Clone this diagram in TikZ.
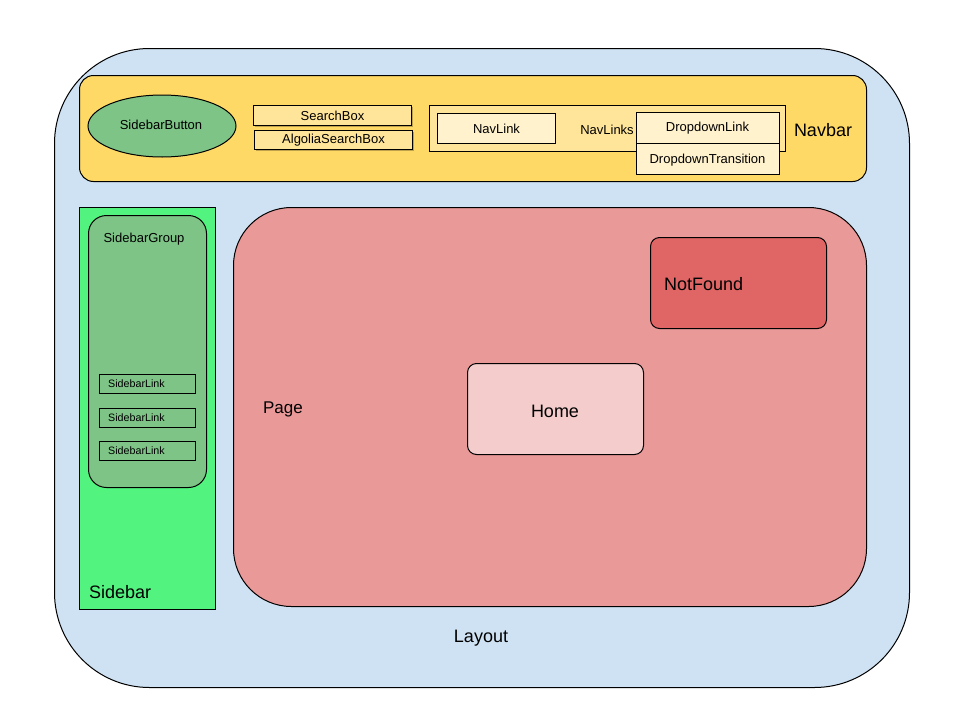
\documentclass[tikz,border=0pt]{standalone}
\usepackage{fontspec}
\setmainfont{Liberation Sans}
\usetikzlibrary{shapes.geometric,shadows}
\definecolor{layoutc}{HTML}{CFE2F3}
\definecolor{navc}{HTML}{FFD966}
\definecolor{searchc}{HTML}{FFE599}
\definecolor{linkc}{HTML}{FFF2CC}
\definecolor{sidec}{HTML}{52F47F}
\definecolor{greenc}{HTML}{7DC486}
\definecolor{pagec}{HTML}{EA9999}
\definecolor{nfc}{HTML}{E06666}
\definecolor{homec}{HTML}{F4CCCC}
\tikzset{
  box/.style={draw=black, line width=1pt, inner sep=0pt, anchor=north west},
  shd/.style={drop shadow={shadow xshift=1.5pt, shadow yshift=-1.5pt, opacity=0.25, fill=black}},
  txt/.style={inner sep=0pt, font=\fontsize{13}{15}\selectfont},
  big/.style={inner sep=0pt, font=\fontsize{18}{21}\selectfont},
  small/.style={inner sep=0pt, font=\fontsize{10.7}{12}\selectfont},
}
\begin{document}
\begin{tikzpicture}[x=1pt,y=-1pt]
\useasboundingbox[fill=white] (0,0) rectangle (960,720);
% Layout
\node[box, fill=layoutc, rounded corners=95pt, minimum width=855pt, minimum height=639pt] (layout) at (54,48) {};
\node[big] (layoutlbl) at (481,638) {Layout};
% Navbar
\node[box, fill=navc, rounded corners=14pt, minimum width=787pt, minimum height=106pt] (navbar) at (79,75) {};
\node[big] (navbarlbl) at (823,130) {Navbar};
\node[ellipse, draw=black, line width=1pt, fill=greenc, minimum width=148pt, minimum height=62pt, inner sep=0pt] (sbbtn) at (162,126) {};
\node[txt] (sbbtnlbl) at (161,124.5) {SidebarButton};
\node[box, fill=searchc, shd, minimum width=158pt, minimum height=20pt, font=\fontsize{13}{15}\selectfont] (search) at (253,105) {SearchBox};
\node[box, fill=searchc, shd, minimum width=158pt, minimum height=19pt, font=\fontsize{13}{15}\selectfont] (algolia) at (254,130) {AlgoliaSearchBox};
\node[box, fill=searchc, minimum width=356pt, minimum height=46pt] (navlinks) at (429,105) {};
\node[txt] (navlinkslbl) at (607,130) {NavLinks};
\node[box, fill=linkc, minimum width=118pt, minimum height=30pt, font=\fontsize{13}{15}\selectfont] (navlink) at (437,113) {NavLink};
\node[box, fill=linkc, minimum width=143pt, minimum height=31pt] (ddtrans) at (636,143) {};
\node[txt] (ddtranslbl) at (707.5,160) {DropdownTransition};
\node[box, fill=linkc, minimum width=143pt, minimum height=31pt] (ddlink) at (636,112) {};
\node[txt] (ddlinklbl) at (707.5,128) {DropdownLink};
% Sidebar
\node[box, fill=sidec, minimum width=136pt, minimum height=402pt] (sidebar) at (79,207) {};
\node[big, anchor=west] (sidebarlbl) at (89,592) {Sidebar};
\node[box, fill=greenc, rounded corners=18pt, minimum width=118pt, minimum height=272pt] (sbgroup) at (88,215) {};
\node[txt] (sbgrouplbl) at (144,239.5) {SidebarGroup};
\node[box, minimum width=96pt, minimum height=19pt] (sl1) at (99,374) {};
\node[box, minimum width=96pt, minimum height=19pt] (sl2) at (99,408) {};
\node[box, minimum width=96pt, minimum height=19pt] (sl3) at (99,441) {};
\node[small, anchor=west] (sl1lbl) at (108,384) {SidebarLink};
\node[small, anchor=west] (sl2lbl) at (108,418) {SidebarLink};
\node[small, anchor=west] (sl3lbl) at (108,451) {SidebarLink};
% Page
\node[box, fill=pagec, rounded corners=58pt, minimum width=633pt, minimum height=399pt] (page) at (233,207) {};
\node[inner sep=0pt, font=\fontsize{17}{20}\selectfont] (pagelbl) at (283,409) {Page};
\node[box, fill=nfc, rounded corners=9pt, minimum width=176pt, minimum height=91pt] (notfound) at (650,237) {};
\node[big, anchor=west] (nflbl) at (664,284) {NotFound};
\node[box, fill=homec, rounded corners=9pt, minimum width=176pt, minimum height=91pt] (home) at (467,363) {};
\node[big] (homelbl) at (555,411) {Home};
\end{tikzpicture}
\end{document}
